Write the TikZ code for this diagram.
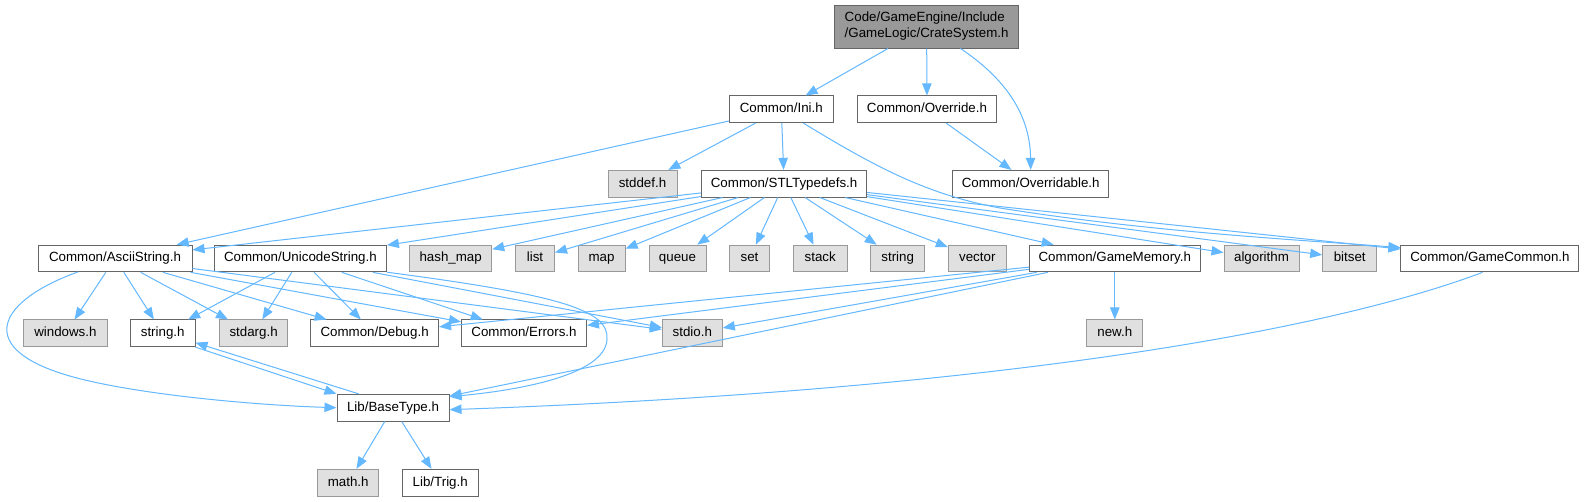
\documentclass[tikz,border=0pt]{standalone}
\usepackage{fontspec}
\setmainfont{Liberation Sans}
\usetikzlibrary{arrows.meta}
\definecolor{edgeblue}{HTML}{63B8FF}
\definecolor{boxline}{HTML}{666666}
\definecolor{sysline}{HTML}{999999}
\definecolor{sysfill}{HTML}{E0E0E0}
\definecolor{rootfill}{HTML}{999999}
\tikzset{
  incarr/.style={-{Triangle[length=9pt,width=7pt]}, draw=edgeblue, line width=0.75pt},
  filebox/.style={draw=boxline, fill=white, line width=0.75pt, inner sep=0pt, minimum height=20pt, text height=7.2pt, text depth=2pt, font=\fontsize{10}{12}\selectfont},
  sysbox/.style={filebox, draw=sysline, fill=sysfill},
  wd/.style={minimum width=#1*0.75pt},
}
\begin{document}
\begin{tikzpicture}[x=0.75pt, y=-0.75pt,
  rootbox/.style={filebox, fill=rootfill, minimum height=32.25pt, text height=, text depth=, align=left},
]
  \useasboundingbox[fill=white] (0,0) rectangle (1584,501);
  \node[rootbox, wd=184] (root) at (926.6,26.5) {Code/GameEngine/Include\\/GameLogic/CrateSystem.h};
  \node[filebox, wd=104] (ini) at (781.3,109.3) {Common/Ini.h};
  \node[filebox, wd=139] (override) at (927,109.3) {Common/Override.h};
  \node[sysbox, wd=69] (stddef) at (642.5,183.7) {stddef.h};
  \node[filebox, wd=165] (stl) at (784.1,183.7) {Common/STLTypedefs.h};
  \node[filebox, wd=156] (overridable) at (1030.7,183.7) {Common/Overridable.h};
  \node[filebox, wd=154] (ascii) at (115,258.5) {Common/AsciiString.h};
  \node[filebox, wd=172] (unicode) at (300.4,258.5) {Common/UnicodeString.h};
  \node[sysbox, wd=82] (hashmap) at (450.7,258.5) {hash\_map};
  \node[sysbox, wd=39] (list) at (535,258.5) {list};
  \node[sysbox, wd=47] (map) at (601.6,258.5) {map};
  \node[sysbox, wd=57] (queue) at (677.5,258.5) {queue};
  \node[sysbox, wd=40] (set) at (749.5,258.5) {set};
  \node[sysbox, wd=54] (stack) at (820.2,258.5) {stack};
  \node[sysbox, wd=54] (stdstring) at (897.7,258.5) {string};
  \node[sysbox, wd=58] (vector) at (977.3,258.5) {vector};
  \node[filebox, wd=171] (gamemem) at (1114.8,258.5) {Common/GameMemory.h};
  \node[sysbox, wd=75] (algorithm) at (1261.5,258.5) {algorithm};
  \node[sysbox, wd=54] (bitset) at (1349.7,258.5) {bitset};
  \node[filebox, wd=178] (gamecommon) at (1489.9,258.5) {Common/GameCommon.h};
  \node[sysbox, wd=83.5] (windows) at (65.4,333.3) {windows.h};
  \node[filebox, wd=64.6] (stringh) at (162.7,333.3) {string.h};
  \node[sysbox, wd=68.6] (stdarg) at (253.6,333.3) {stdarg.h};
  \node[filebox, wd=128] (debug) at (374.6,333.3) {Common/Debug.h};
  \node[filebox, wd=125] (errors) at (524,333.3) {Common/Errors.h};
  \node[sysbox, wd=60] (stdio) at (692.3,333.3) {stdio.h};
  \node[sysbox, wd=56] (newh) at (1114.8,333.3) {new.h};
  \node[filebox, wd=112] (basetype) at (393,407.7) {Lib/BaseType.h};
  \node[sysbox, wd=61] (mathh) at (348.2,482.7) {math.h};
  \node[filebox, wd=75.6] (trig) at (440.2,482.7) {Lib/Trig.h};

  \draw[incarr] (root) -- (ini);
  \draw[incarr] (root) -- (override);
  \draw[incarr] (root.-33) .. controls (1000,75) and (1030,110) .. (overridable.north);
  \draw[incarr] (override) -- (overridable);
  \foreach \t in {ascii,stddef,stl}
    \draw[incarr] (ini) -- (\t);
  \draw[incarr] (ini.-32) .. controls (880,170) and (930,195) .. (1000,208)
    .. controls (1150,232) and (1300,240) .. (gamecommon.173);
  \foreach \t in {ascii,unicode,hashmap,list,map,queue,set,stack,stdstring,vector,gamemem,algorithm,bitset,gamecommon}
    \draw[incarr] (stl) -- (\t);
  \foreach \t in {windows,stringh,stdarg,debug,errors,stdio}
    \draw[incarr] (ascii) -- (\t);
  \draw[incarr] (78,271.9) .. controls (0,300) and (-25,345) .. (60,373)
    .. controls (120,393) and (250,405) .. (basetype.west);
  \foreach \t in {stringh,stdarg,debug,errors,stdio}
    \draw[incarr] (unicode) -- (\t);
  \draw[incarr] (unicode.-9) .. controls (560,295) and (610,310) .. (607,340)
    .. controls (604,375) and (520,390) .. (basetype.11);
  \foreach \t in {debug,errors,stdio,newh,basetype}
    \draw[incarr] (gamemem) -- (\t);
  \draw[incarr] (gamecommon.-118) .. controls (1330,330) and (1000,390) .. (basetype.-2);
  \draw[incarr] (stringh.south east) -- (basetype.north west);
  \draw[incarr] (basetype.158) -- (stringh.-16);
  \draw[incarr] (basetype) -- (mathh);
  \draw[incarr] (basetype) -- (trig);
\end{tikzpicture}
\end{document}
